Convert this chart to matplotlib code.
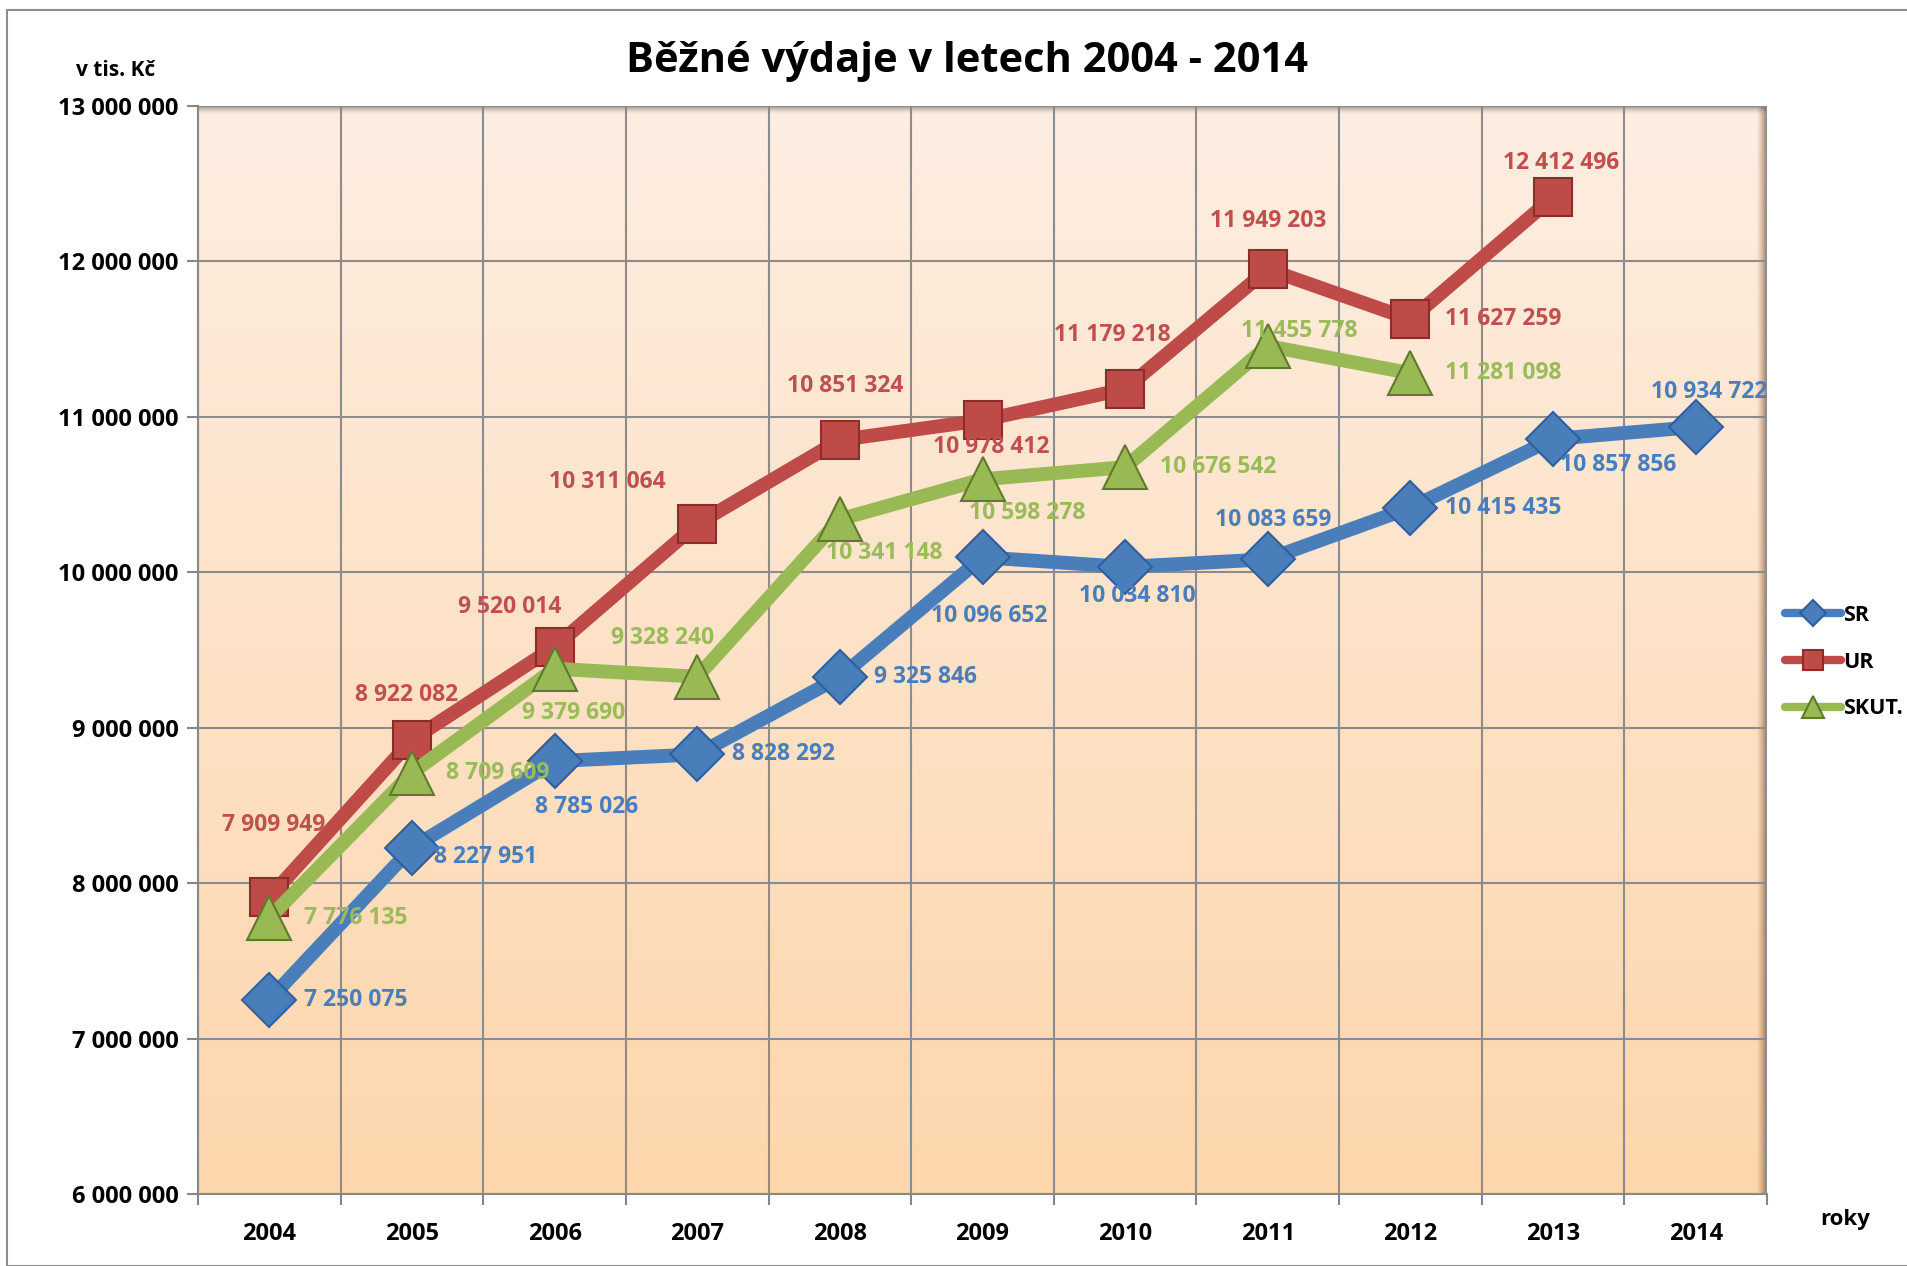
import numpy as np
import matplotlib
matplotlib.use("Agg")
import matplotlib.pyplot as plt
from matplotlib import font_manager as fm
from matplotlib.patches import Rectangle

years = ["2004", "2005", "2006", "2007", "2008", "2009", "2010", "2011", "2012", "2013", "2014"]
sr = [7250075, 8227951, 8785026, 8828292, 9325846, 10096652, 10034810, 10083659, 10415435, 10857856, 10934722]
ur = [7909949, 8922082, 9520014, 10311064, 10851324, 10978412, 11179218, 11949203, 11627259, 12412496]
skut = [7776135, 8709609, 9379690, 9328240, 10341148, 10598278, 10676542, 11455778, 11281098]

names = {f.name for f in fm.fontManager.ttflist}
fam = "Liberation Sans Narrow" if "Liberation Sans Narrow" in names else "Open Sans"
plt.rcParams["font.family"] = [fam, "DejaVu Sans"]
plt.rcParams["font.weight"] = "bold"

def fmt(v):
    return f"{v:,}".replace(",", " ")

W, H = 1907, 1266
fig = plt.figure(figsize=(W / 100, H / 100), dpi=100)
L, R, T, B = 198, 1767, 106, 1194
ax = fig.add_axes([L / W, 1 - B / H, (R - L) / W, (B - T) / H])

# background gradient
grad = np.linspace(0, 1, 256).reshape(-1, 1)
c_top = np.array([253, 238, 226]) / 255
c_bot = np.array([253, 214, 172]) / 255
img = c_top[None, None, :] * (1 - grad[:, :, None]) + c_bot[None, None, :] * grad[:, :, None]
ax.imshow(img, extent=(-0.5, 10.5, 6e6, 13e6), aspect="auto", origin="upper", zorder=0)

n = len(years)
x = np.arange(n)
ax.set_xlim(-0.5, n - 0.5)
ax.set_ylim(6e6, 13e6)

# shadow on right and top
px_x = n / (R - L)
px_y = 7e6 / (B - T)
for i in range(10):
    a = 0.65 * ((i + 1) / 10) ** 1.3
    ax.add_patch(Rectangle((n - 0.5 - (10 - i) * px_x, 6e6), px_x, 7e6, color="#6b4a30",
                           alpha=a, lw=0, zorder=1))
for i in range(8):
    a = 0.5 * ((8 - i) / 8) ** 1.5
    ax.add_patch(Rectangle((-0.5, 13e6 - (i + 1) * px_y), n, px_y, color="#4a4a4a",
                           alpha=a, lw=0, zorder=1))

ax.set_yticks(np.arange(6e6, 13e6 + 1, 1e6))
ax.set_yticklabels([fmt(int(v)) for v in np.arange(6e6, 13e6 + 1, 1e6)], fontsize=17, fontweight="bold")
ax.set_xticks(x)
ax.set_xticklabels(years, fontsize=17, fontweight="bold")
ax.set_xticks(np.arange(-0.5, n, 1), minor=True)
ax.tick_params(axis="x", which="major", length=0, pad=20)
ax.tick_params(axis="x", which="minor", length=8, color="#868686", width=1.5)
ax.tick_params(axis="y", length=8, color="#868686", width=1.5, pad=6)
ax.grid(True, which="minor", axis="x", color="#8c8c8c", lw=1.5, zorder=2)
ax.grid(True, which="major", axis="y", color="#8c8c8c", lw=1.5, zorder=2)
ax.set_axisbelow(False)
for s in ["top", "right"]:
    ax.spines[s].set_visible(False)
ax.spines["left"].set_color("#868686")
ax.spines["bottom"].set_color("#868686")
ax.spines["left"].set_linewidth(1.5)
ax.spines["bottom"].set_linewidth(1.5)

series = [
    ("SR", sr, "#4a7ebb", "#2f5f9e", "D", 27, "#4a7ebb"),
    ("UR", ur, "#be4b48", "#8c2d2a", "s", 28, "#c0504d"),
    ("SKUT.", skut, "#98b954", "#5f7a2c", "^", 32, "#9bbb59"),
]
lines = []
for name, vals, col, ecol, mk, ms, tcol in series:
    xs = x[: len(vals)]
    ln, = ax.plot(xs, vals, color=col, lw=10, marker=mk, ms=ms, mfc=col, mec=ecol, mew=1.5,
                  solid_capstyle="round", solid_joinstyle="round", zorder=5, label=name)
    lines.append(ln)

sr_off = [(62, 0), (53, -7), (23, -33), (62, 0), (62, 0), (5, -42), (9, -21), (4, 28), (67, 0), (47, -19), (10, 25)]
ur_off = [(3, 52), (-4, 32), (-32, 29), (-65, 30), (4, 39), (6, -19), (-9, 39), (0, 35), (67, 0), (6, 25)]
sk_off = [(62, 0), (62, 0), (14, -32), (-25, 28), (32, -24), (32, -24), (67, 0), (23, 11), (67, 0)]

for (name, vals, col, ecol, mk, ms, tcol), offs in zip(series, [sr_off, ur_off, sk_off]):
    for i, v in enumerate(vals):
        ax.annotate(fmt(v), (i, v), xytext=offs[i], textcoords="offset points",
                    ha="center", va="center", fontsize=16.5, fontweight="bold", color=tcol, zorder=8)

fig.text(967 / W, 1 - 61 / H, "Běžné výdaje v letech 2004 - 2014", ha="center", va="center",
         fontsize=30, fontweight="bold")
fig.text(116 / W, 1 - 71 / H, "v tis. Kč", ha="center", va="center", fontsize=15, fontweight="bold")
fig.text(1845 / W, 1 - 1220 / H, "roky", ha="center", va="center", fontsize=16, fontweight="bold")

leg = fig.legend(handles=lines, loc="center left", bbox_to_anchor=(1785 / W, 1 - 662 / H),
                 frameon=False, fontsize=15.5, handlelength=2.6, handletextpad=0.1, labelspacing=1.2,
                 markerscale=0.5, borderaxespad=0, borderpad=0)
for h in leg.legend_handles:
    h.set_linewidth(6)

# outer border
fig.add_artist(Rectangle((7 / W, 0), 1 - 7 / W + 0.01, 1 - 10 / H, transform=fig.transFigure,
                         fill=False, ec="#8c8c8c", lw=1.5))

fig.savefig("out.png", dpi=100)
